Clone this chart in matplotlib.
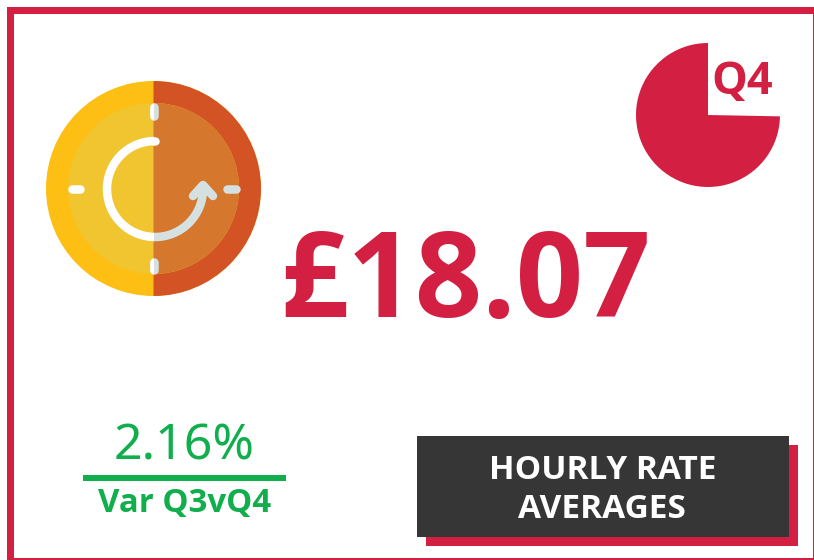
import numpy as np
import matplotlib
matplotlib.use('Agg')
import matplotlib.pyplot as plt
from matplotlib.patches import Circle, Rectangle, Wedge

# values
rate_label = '£18.07'
var_label = '2.16%'
var_caption = 'Var Q3vQ4'
quarter_label = 'Q4'
title_lines = ['HOURLY RATE', 'AVERAGES']
pie_values = [74.7, 25.3]

CRIMSON = '#D31F41'
GREEN = '#10AE4C'
DARK = '#363636'
WHITE = '#FFFFFF'
GREY = '#D5E1E1'

BOLD = ['Open Sans', 'DejaVu Sans']
plt.rcParams['font.family'] = ['Noto Sans', 'DejaVu Sans']
PX = 72 / 100  # one pixel in points at dpi 100

fig = plt.figure(figsize=(8.14, 5.6), dpi=100)
ax = fig.add_axes([0, 0, 1, 1])
ax.set_xlim(0, 814)
ax.set_ylim(560, 0)
ax.axis('off')

# frame, heavy on top and left, thin on the other two sides
ax.add_patch(Rectangle((7, 7), 7, 553, color=CRIMSON, lw=0))
ax.add_patch(Rectangle((7, 7), 807, 7, color=CRIMSON, lw=0))
ax.add_patch(Rectangle((812.5, 7), 1.5, 553, color=CRIMSON, lw=0))
ax.add_patch(Rectangle((7, 558), 807, 2, color=CRIMSON, lw=0))

# clock icon
cx, cy = 153.5, 188.5
ax.add_patch(Circle((cx, cy), 107.5, color='#FDBF14', lw=0))
ax.add_patch(Wedge((cx, cy), 107.5, -90, 90, color='#D35325', lw=0))
ax.add_patch(Circle((cx, cy), 85.5, color='#F0C530', lw=0))
ax.add_patch(Wedge((cx, cy), 85.5, -90, 90, color='#D5772D', lw=0))

left_half = Rectangle((0, 0), cx, 560, transform=ax.transData)
right_half = Rectangle((cx, 0), 814 - cx, 560, transform=ax.transData)


def stroke(xs, ys, color, cap='round', clip=None):
    line, = ax.plot(xs, ys, color=color, lw=8.5 * PX, solid_capstyle=cap, solid_joinstyle='round')
    if clip is not None:
        line.set_clip_path(clip)


def arc(start, end, color, clip=None):
    t = np.radians(np.linspace(start, end, 80))
    stroke(155 + 48 * np.cos(t), 189 + 48 * np.sin(t), color, 'butt', clip)


# tick marks, the vertical ones split at the middle
stroke([72, 80], [189, 189], WHITE)
stroke([227, 236], [189, 189], GREY)
for y0, y1 in [(107, 116), (262, 270)]:
    stroke([154, 154], [y0, y1], GREY)
    stroke([154, 154], [y0, y1], WHITE, clip=left_half)

# circular arrow, white on the left half and grey on the right
arc(275, 85, WHITE, clip=left_half)
stroke([153.5, 155], [141, 141], WHITE)
arc(100, 0, GREY, clip=right_half)
stroke([193, 203, 213], [196, 185, 196], GREY)

# quarter pie
pie_ax = fig.add_axes([636 / 814, (560 - 187) / 560, 144 / 814, 144 / 560])
pie_ax.pie(pie_values, colors=[CRIMSON, 'none'], startangle=90, radius=1, frame=True)
pie_ax.set_xlim(-1, 1)
pie_ax.set_ylim(-1, 1)
pie_ax.axis('off')
ax.text(742.5, 94, quarter_label, color=CRIMSON, fontsize=32.5, fontweight='bold',
        family=BOLD, ha='center', va='baseline')

# headline figure
ax.text(465.5, 317, rate_label, color=CRIMSON, fontsize=85, fontweight='bold',
        family=BOLD, ha='center', va='baseline')

# variance block
ax.text(184, 459, var_label, color=GREEN, fontsize=36, ha='center', va='baseline')
ax.add_patch(Rectangle((83, 475), 203, 6, color=GREEN, lw=0))
ax.text(184.5, 512, var_caption, color=GREEN, fontsize=23.8, fontweight='bold',
        family=BOLD, ha='center', va='baseline')

# title box with offset shadow
ax.add_patch(Rectangle((426, 445), 372, 101, color=CRIMSON, lw=0))
ax.add_patch(Rectangle((417, 436), 372, 101, color=DARK, lw=0))
ax.text(602.5, 479, title_lines[0], color=WHITE, fontsize=24, fontweight='bold',
        family=BOLD, ha='center', va='baseline')
ax.text(602, 518, title_lines[1], color=WHITE, fontsize=24, fontweight='bold',
        family=BOLD, ha='center', va='baseline')

fig.savefig('out.png', dpi=100)
plt.close(fig)
